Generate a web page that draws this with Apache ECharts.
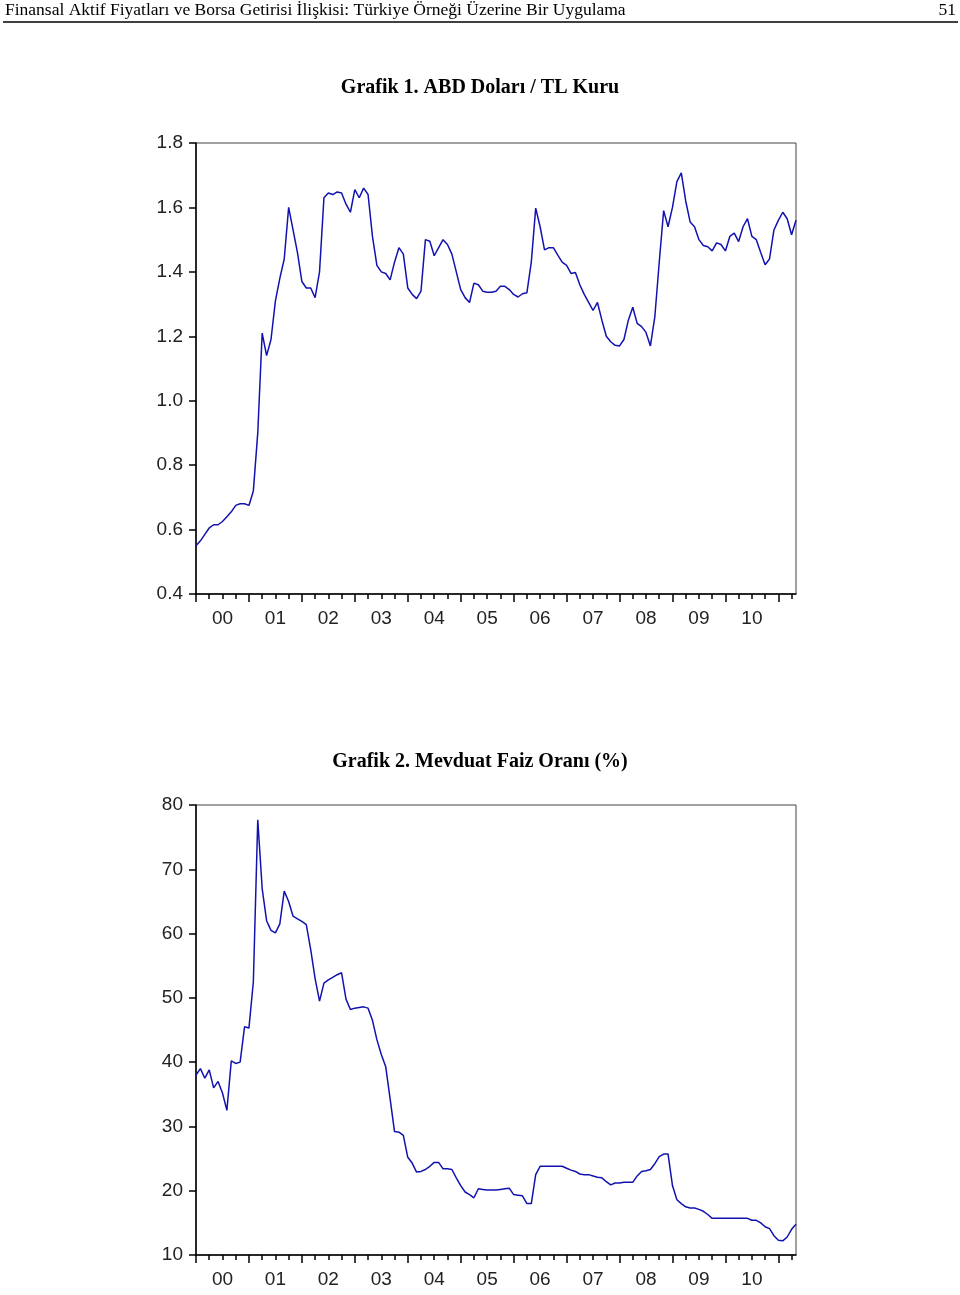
<!DOCTYPE html>
<html>
<head>
<meta charset="utf-8">
<script src="https://cdn.jsdelivr.net/npm/echarts@6/dist/echarts.min.js"></script>
<style>
html,body{margin:0;padding:0;background:#fff;}
#c{width:960px;height:1295px;}
</style>
</head>
<body>
<div id="c"></div>
<script>
// Monthly data, 2000M01 - 2011M05
const firstYear = 2000;
const nObs = 137;
const months = [];
for (let i = 0; i < nObs; i++) {
  const y = firstYear + Math.floor(i / 12), m = (i % 12) + 1;
  months.push(y + 'M' + (m < 10 ? '0' + m : m));
}
const yearLabels = ['00','01','02','03','04','05','06','07','08','09','10'];

// Grafik 1: ABD Doları / TL Kuru
const usdTry = [
  0.55, 0.565, 0.585, 0.605, 0.615, 0.615, 0.625, 0.64, 0.655, 0.675, 0.68, 0.68,
  0.675, 0.72, 0.90, 1.21, 1.14, 1.19, 1.31, 1.38, 1.44, 1.60, 1.53, 1.46,
  1.37, 1.35, 1.35, 1.32, 1.40, 1.63, 1.645, 1.64, 1.648, 1.645, 1.61, 1.585,
  1.655, 1.63, 1.66, 1.64, 1.51, 1.42, 1.40, 1.395, 1.375, 1.43, 1.475, 1.455,
  1.35, 1.33, 1.317, 1.34, 1.50, 1.495, 1.45, 1.475, 1.50, 1.485, 1.455, 1.40,
  1.345, 1.32, 1.305, 1.365, 1.36, 1.34, 1.337, 1.337, 1.34, 1.355, 1.355, 1.345,
  1.33, 1.322, 1.332, 1.335, 1.43, 1.598, 1.54, 1.468, 1.475, 1.475, 1.452, 1.43,
  1.42, 1.395, 1.398, 1.36, 1.33, 1.305, 1.28, 1.305, 1.25, 1.20, 1.183, 1.172,
  1.17, 1.19, 1.25, 1.29, 1.24, 1.23, 1.212, 1.17, 1.26, 1.43, 1.59, 1.54,
  1.60, 1.68, 1.707, 1.62, 1.555, 1.54, 1.50, 1.482, 1.478, 1.465, 1.49, 1.485,
  1.465, 1.51, 1.52, 1.494, 1.54, 1.565, 1.51, 1.50, 1.46, 1.422, 1.44, 1.53,
  1.56, 1.585, 1.565, 1.515, 1.56
];

// Grafik 2: Mevduat Faiz Oranı (%)
const depositRate = [
  38.0, 39.0, 37.5, 38.8, 36.0, 37.0, 35.2, 32.5, 40.2, 39.8, 40.0, 45.5,
  45.3, 52.5, 77.7, 67.0, 62.0, 60.5, 60.1, 61.5, 66.6, 65.0, 62.7, 62.3,
  61.9, 61.4, 57.5, 53.0, 49.5, 52.3, 52.8, 53.2, 53.6, 53.9, 49.8, 48.2,
  48.4, 48.5, 48.6, 48.4, 46.5, 43.5, 41.2, 39.3, 34.3, 29.2, 29.1, 28.6,
  25.2, 24.3, 22.9, 23.0, 23.3, 23.8, 24.4, 24.4, 23.4, 23.4, 23.3, 22.0,
  20.8, 19.8, 19.4, 18.9, 20.3, 20.2, 20.1, 20.1, 20.1, 20.2, 20.3, 20.4,
  19.4, 19.3, 19.2, 18.0, 18.0, 22.5, 23.8, 23.8, 23.8, 23.8, 23.8, 23.8,
  23.5, 23.2, 23.0, 22.6, 22.5, 22.5, 22.3, 22.1, 22.0, 21.4, 20.9, 21.2,
  21.2, 21.3, 21.3, 21.3, 22.3, 23.0, 23.1, 23.3, 24.2, 25.3, 25.7, 25.7,
  20.8, 18.6, 18.0, 17.5, 17.3, 17.3, 17.1, 16.8, 16.3, 15.7, 15.7, 15.7,
  15.7, 15.7, 15.7, 15.7, 15.7, 15.7, 15.4, 15.4, 15.0, 14.4, 14.1, 13.0,
  12.3, 12.2, 12.8, 14.0, 14.8
];

const yearStarts = [], yearMids = [], quarterTicks = [];
for (let i = 0; i < nObs; i++) {
  if (i % 12 === 0) yearStarts.push(i);
  else if (i % 3 === 0) quarterTicks.push(i);
  if (i % 12 === 6 && (i - 6) / 12 < yearLabels.length) yearMids.push(i);
}

const axisFont = { fontFamily: 'Liberation Sans, Arial, sans-serif', fontSize: 19, color: '#222' };
const black = { color: '#000', width: 1.5 };

function xAxes(g) {
  return [
    {
      type: 'value', gridIndex: g, min: 0, max: nObs - 1, position: 'bottom',
      axisLine: { show: true, onZero: false, lineStyle: black },
      axisTick: { show: true, length: 8, customValues: yearStarts, lineStyle: black },
      axisLabel: Object.assign({ show: true, margin: 15, customValues: yearMids,
        formatter: v => yearLabels[Math.round((v - 6) / 12)] }, axisFont),
      splitLine: { show: false }
    },
    {
      type: 'value', gridIndex: g, min: 0, max: nObs - 1, position: 'bottom',
      axisLine: { show: false },
      axisTick: { show: true, length: 5, customValues: quarterTicks, lineStyle: black },
      axisLabel: { show: false },
      splitLine: { show: false }
    }
  ];
}

function yAxis(g, min, max, interval, digits) {
  return {
    type: 'value', gridIndex: g, min: min, max: max, interval: interval,
    axisLine: { show: true, onZero: false, lineStyle: black },
    axisTick: { show: true, length: 7, lineStyle: black },
    axisLabel: Object.assign({ margin: 13, formatter: v => v.toFixed(digits) }, axisFont),
    splitLine: { show: false }
  };
}

const titleFont = { fontFamily: 'Liberation Serif, Times New Roman, serif', fontWeight: 'bold', fontSize: 20, color: '#000' };
const headFont = { fontFamily: 'Liberation Serif, Times New Roman, serif', fontWeight: 'normal', fontSize: 17.5, color: '#000' };

const chart = echarts.init(document.getElementById('c'), null, { renderer: 'canvas' });
chart.setOption({
  animation: false,
  backgroundColor: '#fff',
  title: [
    { text: 'Finansal Aktif Fiyatları ve Borsa Getirisi İlişkisi: Türkiye Örneği Üzerine Bir Uygulama', left: 5, top: 1, padding: 0, textStyle: headFont },
    { text: '51', right: 4, top: 1, padding: 0, textStyle: headFont },
    { text: 'Grafik 1. ABD Doları / TL Kuru', left: 'center', top: 78, padding: 0, textStyle: titleFont },
    { text: 'Grafik 2. Mevduat Faiz Oranı (%)', left: 'center', top: 752, padding: 0, textStyle: titleFont }
  ],
  graphic: [
    { type: 'line', shape: { x1: 3, y1: 22, x2: 958, y2: 22 }, style: { stroke: '#000', lineWidth: 1.5 } }
  ],
  grid: [
    { left: 196, top: 143, width: 600, height: 451, show: true, borderColor: '#444', borderWidth: 1 },
    { left: 196, top: 805, width: 600, height: 450, show: true, borderColor: '#444', borderWidth: 1 }
  ],
  xAxis: xAxes(0).concat(xAxes(1)),
  yAxis: [ yAxis(0, 0.4, 1.8, 0.2, 1), yAxis(1, 10, 80, 10, 0) ],
  series: [
    { type: 'line', name: 'USD/TL', xAxisIndex: 0, yAxisIndex: 0, showSymbol: false,
      lineStyle: { color: '#1212b0', width: 1.5 },
      data: usdTry.map((v, i) => [i, v]) },
    { type: 'line', name: 'Mevduat', xAxisIndex: 2, yAxisIndex: 1, showSymbol: false,
      lineStyle: { color: '#1212b0', width: 1.5 },
      data: depositRate.map((v, i) => [i, v]) }
  ]
});
</script>
</body>
</html>
